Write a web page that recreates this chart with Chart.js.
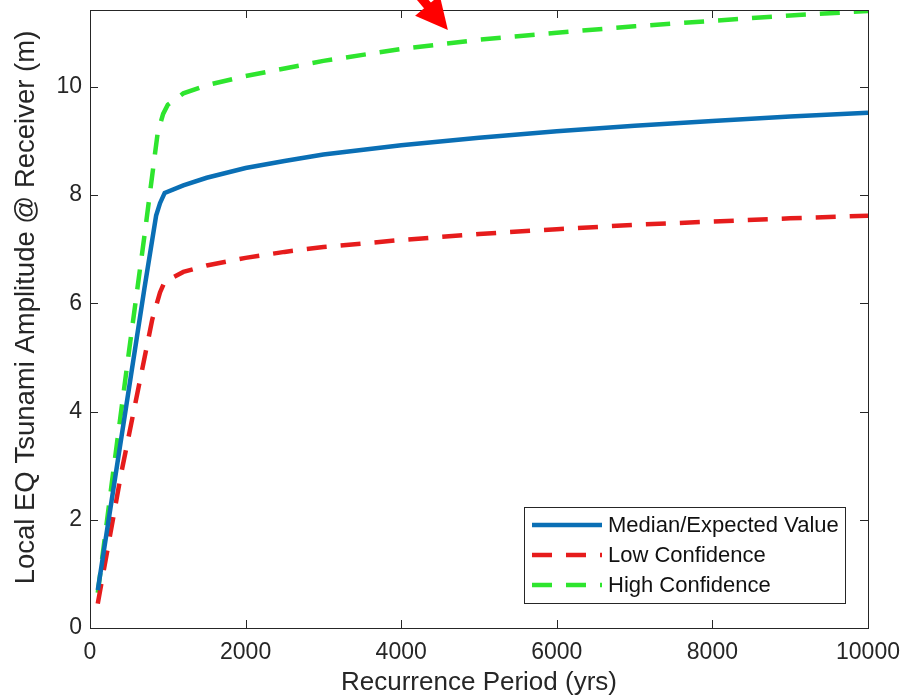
<!DOCTYPE html>
<html>
<head>
<meta charset="utf-8">
<script src="https://cdn.jsdelivr.net/npm/chart.js@4.4.1/dist/chart.umd.min.js"></script>
<style>
html,body{margin:0;padding:0;background:#fff;}
canvas{display:block;}
</style>
</head>
<body>
<canvas id="c" width="905" height="698"></canvas>
<script>
// ---- data ----
const medianX = [100, 300, 500, 700, 850, 900, 960, 1200, 1500, 2000, 2500, 3000, 4000, 5000, 6000, 7000, 8000, 9000, 10000];
const medianY = [0.70, 2.56, 4.42, 6.28, 7.62, 7.85, 8.04, 8.18, 8.32, 8.50, 8.63, 8.75, 8.92, 9.06, 9.18, 9.28, 9.37, 9.45, 9.52];

const lowX = [100, 400, 800, 900, 960, 1200, 1500, 2000, 2500, 3000, 4000, 5000, 6000, 7000, 8000, 9000, 10000];
const lowY = [0.45, 2.85, 5.70, 6.20, 6.40, 6.58, 6.70, 6.84, 6.95, 7.04, 7.17, 7.28, 7.37, 7.45, 7.51, 7.57, 7.62];

const highX = [100, 300, 500, 700, 870, 940, 1000, 1200, 1500, 2000, 2500, 3000, 4000, 5000, 6000, 7000, 8000, 9000, 10000];
const highY = [0.65, 2.90, 5.10, 7.25, 9.15, 9.50, 9.67, 9.88, 10.03, 10.20, 10.34, 10.48, 10.70, 10.87, 11.00, 11.12, 11.22, 11.32, 11.40];

const seriesLabels = ['Median/Expected Value', 'Low Confidence', 'High Confidence'];
const xTicks = [0, 2000, 4000, 6000, 8000, 10000];
const yTicks = [0, 2, 4, 6, 8, 10];
const xRange = [0, 10000];
const yRange = [0, 11.42];
const arrowTip = [4600, 11.05];

const FONT = "'Liberation Sans', Arial, Helvetica, sans-serif";
const AXIS = '#262626';
const BLUE = '#0a6fb5';
const RED = '#e61c1c';
const GREEN = '#2ee52e';

const pts = (xs, ys) => xs.map((x, i) => ({x, y: ys[i]}));

const frameTicks = {
  id: 'frameTicks',
  afterDatasetsDraw(chart) {
    const {ctx, chartArea: a, scales} = chart;
    ctx.save();
    ctx.strokeStyle = AXIS;
    ctx.lineWidth = 1;
    const L = 8;
    ctx.beginPath();
    xTicks.forEach(v => {
      const px = Math.round(scales.x.getPixelForValue(v)) + 0.5;
      ctx.moveTo(px, a.bottom); ctx.lineTo(px, a.bottom - L);
      ctx.moveTo(px, a.top); ctx.lineTo(px, a.top + L);
    });
    yTicks.forEach(v => {
      const py = Math.round(scales.y.getPixelForValue(v)) + 0.5;
      ctx.moveTo(a.left, py); ctx.lineTo(a.left + L, py);
      ctx.moveTo(a.right, py); ctx.lineTo(a.right - L, py);
    });
    ctx.stroke();
    ctx.strokeRect(Math.round(a.left) + 0.5, Math.round(a.top) + 0.5,
                   Math.round(a.right - a.left), Math.round(a.bottom - a.top));
    ctx.restore();
  },
  afterDraw(chart) {
    const {ctx, scales} = chart;
    // legend box (inside axes, lower right)
    ctx.save();
    const bx = 524, by = 507, bw = 321, bh = 96;
    ctx.fillStyle = '#fff';
    ctx.fillRect(bx, by, bw, bh);
    ctx.strokeStyle = AXIS;
    ctx.lineWidth = 1;
    ctx.strokeRect(bx + 0.5, by + 0.5, bw, bh);
    ctx.font = '22px ' + FONT;
    ctx.textBaseline = 'middle';
    ctx.textAlign = 'left';
    chart.data.datasets.forEach((ds, i) => {
      const cy = by + 18 + i * 30;
      ctx.strokeStyle = ds.borderColor;
      ctx.lineWidth = ds.borderWidth;
      ctx.setLineDash(ds.borderDash || []);
      ctx.beginPath();
      ctx.moveTo(bx + 8, cy); ctx.lineTo(bx + 78, cy);
      ctx.stroke();
      ctx.setLineDash([]);
      ctx.fillStyle = '#111';
      ctx.fillText(ds.label, bx + 84, cy + 1);
    });
    // red arrow annotation at the top
    const tx = scales.x.getPixelForValue(arrowTip[0]);
    const ty = scales.y.getPixelForValue(arrowTip[1]);
    const ang = Math.atan2(1.2, 1);
    const dx = Math.cos(ang), dy = Math.sin(ang);
    const nx = -dy, ny = dx;
    const hl = 32, hw = 16;
    ctx.fillStyle = '#ff0000';
    ctx.strokeStyle = '#ff0000';
    ctx.lineWidth = 9;
    ctx.beginPath();
    ctx.moveTo(tx - dx * (hl - 2), ty - dy * (hl - 2));
    ctx.lineTo(tx - dx * 90, ty - dy * 90);
    ctx.stroke();
    ctx.beginPath();
    ctx.moveTo(tx, ty);
    ctx.lineTo(tx - dx * hl + nx * hw, ty - dy * hl + ny * hw);
    ctx.lineTo(tx - dx * hl - nx * hw, ty - dy * hl - ny * hw);
    ctx.closePath();
    ctx.fill();
    ctx.restore();
  }
};

new Chart(document.getElementById('c'), {
  type: 'line',
  data: {
    datasets: [
      {label: seriesLabels[0], data: pts(medianX, medianY), borderColor: BLUE, borderWidth: 4.5},
      {label: seriesLabels[1], data: pts(lowX, lowY), borderColor: RED, borderWidth: 4.5, borderDash: [20, 14]},
      {label: seriesLabels[2], data: pts(highX, highY), borderColor: GREEN, borderWidth: 4.5, borderDash: [20, 14]}
    ]
  },
  options: {
    responsive: false,
    animation: false,
    events: [],
    layout: {padding: {left: 0, top: 10, right: 37, bottom: 0}},
    elements: {point: {radius: 0}, line: {tension: 0, fill: false, borderCapStyle: 'butt'}},
    plugins: {legend: {display: false}, tooltip: {enabled: false}},
    scales: {
      x: {
        type: 'linear', min: xRange[0], max: xRange[1],
        grid: {display: false, drawTicks: false},
        border: {display: false},
        afterBuildTicks: s => { s.ticks = xTicks.map(v => ({value: v})); },
        afterFit: s => { s.height = 70; s.paddingLeft = 0; s.paddingRight = 0; },
        ticks: {color: AXIS, font: {family: FONT, size: 23}, padding: 11, maxRotation: 0,
                callback: v => String(v)},
        title: {display: true, text: 'Recurrence Period (yrs)', color: AXIS,
                font: {family: FONT, size: 26}, padding: {top: 0, bottom: 0}}
      },
      y: {
        type: 'linear', min: yRange[0], max: yRange[1],
        grid: {display: false, drawTicks: false},
        border: {display: false},
        afterBuildTicks: s => { s.ticks = yTicks.map(v => ({value: v})); },
        afterFit: s => { s.width = 90; s.paddingTop = 0; s.paddingBottom = 0; },
        ticks: {color: AXIS, font: {family: FONT, size: 23}, padding: 8,
                callback: v => String(v)},
        title: {display: true, text: '   Local EQ Tsunami Amplitude @ Receiver (m)', color: AXIS,
                font: {family: FONT, size: 27.5}, padding: {top: 10, bottom: 0}}
      }
    }
  },
  plugins: [frameTicks]
});
</script>
</body>
</html>
